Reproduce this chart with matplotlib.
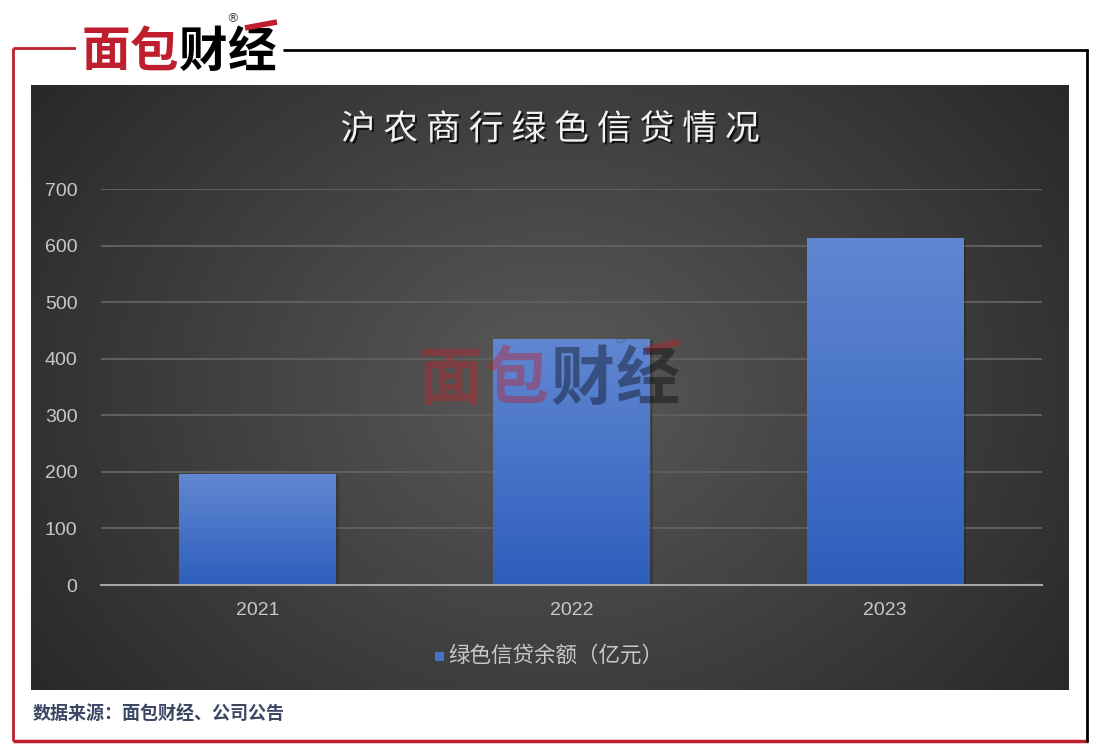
import numpy as np
import matplotlib
matplotlib.use("Agg")
import matplotlib.pyplot as plt
from matplotlib import patheffects as pe
from matplotlib.patches import Rectangle

plt.rcParams['font.family'] = ['Noto Sans CJK SC', 'DejaVu Sans']

# ---- data ----
years = ["2021", "2022", "2023"]
green_loans = [196, 435, 613]          # 绿色信贷余额（亿元）
y_ticks = [0, 100, 200, 300, 400, 500, 600, 700]
title = "沪农商行绿色信贷情况"
legend_label = "绿色信贷余额（亿元）"
source_note = "数据来源：面包财经、公司公告"
brand = "面包财经"

W, H = 1101, 755
fig = plt.figure(figsize=(W / 100, H / 100), dpi=100)
fig.patch.set_facecolor("white")

# full-figure canvas in pixel coordinates for the frame and decorations
bg = fig.add_axes([0, 0, 1, 1])
bg.set_xlim(0, W)
bg.set_ylim(H, 0)
bg.axis("off")

RED = "#be1e2d"

# dark panel with radial light falloff
px0, px1, py0, py1 = 31, 1069, 85, 690
gx, gy = np.meshgrid(np.linspace(px0, px1, 520), np.linspace(py0, py1, 300))
d = np.sqrt(((gx - 555) / 520) ** 2 + ((gy - 390) / 420) ** 2)
v = np.clip(90 - 40 * d, 34, 92) / 255.0
img = np.dstack([v, v, v])
bg.imshow(img, extent=[px0, px1, py1, py0], aspect="auto", zorder=1, interpolation="bilinear")

# outer frame
bg.plot([13, 13], [48, 741], color=RED, lw=2, zorder=2, solid_capstyle="butt")
bg.plot([13, 76], [48, 48], color=RED, lw=2, zorder=2, solid_capstyle="butt")
bg.plot([13, 1088], [741, 741], color=RED, lw=2.5, zorder=2, solid_capstyle="butt")
bg.plot([283, 1088], [50, 50], color="black", lw=2, zorder=2, solid_capstyle="butt")
bg.plot([1087, 1087], [49, 742], color="black", lw=2, zorder=2, solid_capstyle="butt")

# brand block at top-left
bg.add_patch(Rectangle((76, 8), 207, 77, facecolor="white", edgecolor="none", zorder=3))
brand_colors = [RED, RED, "black", "black"]
for i, (ch, c) in enumerate(zip(brand, brand_colors)):
    bg.text(106 + i * 48.5, 52, ch, color=c, fontsize=35, fontweight="bold",
            ha="center", va="center", zorder=4)
bg.text(233, 19, "®", color="#444444", fontsize=9, ha="center", va="center", zorder=4,
        family="DejaVu Sans")
bg.plot([245, 277], [28, 22], color=RED, lw=4, zorder=4, solid_capstyle="butt")

# title with per-character spacing and a soft shadow
shadow = [pe.withSimplePatchShadow(offset=(1.5, -1.5), shadow_rgbFace="black", alpha=0.7)]
for i, ch in enumerate(title):
    bg.text(358 + i * 42.7, 130, ch, color="#f2f2f2", fontsize=25, fontweight="medium",
            ha="center", va="center", zorder=5, path_effects=shadow)

# source note
bg.text(33, 714, source_note, color="#3b4763", fontsize=13, fontweight="bold",
        ha="left", va="center", zorder=5)

# ---- chart ----
left, right, top, bottom = 101, 1042, 189, 585
ax = fig.add_axes([left / W, 1 - bottom / H, (right - left) / W, (bottom - top) / H])
ax.set_facecolor("none")
x = np.arange(len(years))
bars = ax.bar(x, green_loans, width=0.5, color="#4472c4", zorder=3,
              path_effects=[pe.SimplePatchShadow(offset=(2, -1), shadow_rgbFace="black", alpha=0.18),
                            pe.Normal()])

# vertical blue gradient inside each bar
grad = np.linspace(0, 1, 256)[:, None]
top_c = np.array([0.38, 0.53, 0.82])
bot_c = np.array([0.18, 0.37, 0.74])
gimg = (top_c[None, None, :] * (1 - grad[:, :, None]) + bot_c[None, None, :] * grad[:, :, None])
for b in bars:
    im = ax.imshow(gimg, extent=[b.get_x(), b.get_x() + b.get_width(), 0, b.get_height()],
                   aspect="auto", zorder=4, interpolation="bilinear", origin="upper")
    im.set_clip_path(b)

ax.set_xlim(-0.5, len(years) - 0.5)
ax.set_ylim(0, 700)
ax.set_yticks(y_ticks)
ax.set_xticks(x)
ax.set_xticklabels(years)
ax.yaxis.grid(True, color="#5e5e5e", lw=1.5, zorder=1)
ax.set_axisbelow(True)
for s in ["top", "right", "left"]:
    ax.spines[s].set_visible(False)
ax.spines["bottom"].set_color("#a6a6a6")
ax.spines["bottom"].set_linewidth(1.5)
ax.spines["bottom"].set_zorder(5)
ax.tick_params(axis="both", length=0, colors="#c8c8c8", labelsize=14)
ax.tick_params(axis="y", pad=17)
ax.tick_params(axis="x", pad=12)
for lab in ax.get_xticklabels() + ax.get_yticklabels():
    lab.set_family(["Liberation Sans", "DejaVu Sans"])

# legend
bg.add_patch(Rectangle((435, 652), 8.5, 8.5, facecolor="#4472c4", edgecolor="none", zorder=5))
bg.text(448, 656, legend_label, color="#c8c8c8", fontsize=15.5, ha="left", va="center", zorder=5)

# translucent brand watermark over the plot
wm = fig.add_axes([0, 0, 1, 1], facecolor="none")
wm.set_xlim(0, W)
wm.set_ylim(H, 0)
wm.axis("off")
wm_colors = [(0.75, 0.12, 0.16, 0.4), (0.75, 0.12, 0.16, 0.4), (0, 0, 0, 0.38), (0, 0, 0, 0.38)]
for i, (ch, c) in enumerate(zip(brand, wm_colors)):
    wm.text(451 + i * 65.5, 380, ch, color=c, fontsize=46, fontweight="bold",
            ha="center", va="center")
wm.text(620, 340, "®", color=(0.3, 0.3, 0.3, 0.5), fontsize=10, ha="center", va="center",
        family="DejaVu Sans")
wm.plot([645, 680], [350, 342], color=(0.75, 0.12, 0.16, 0.4), lw=5, solid_capstyle="butt")

fig.savefig("out.png", dpi=100, facecolor="white")
